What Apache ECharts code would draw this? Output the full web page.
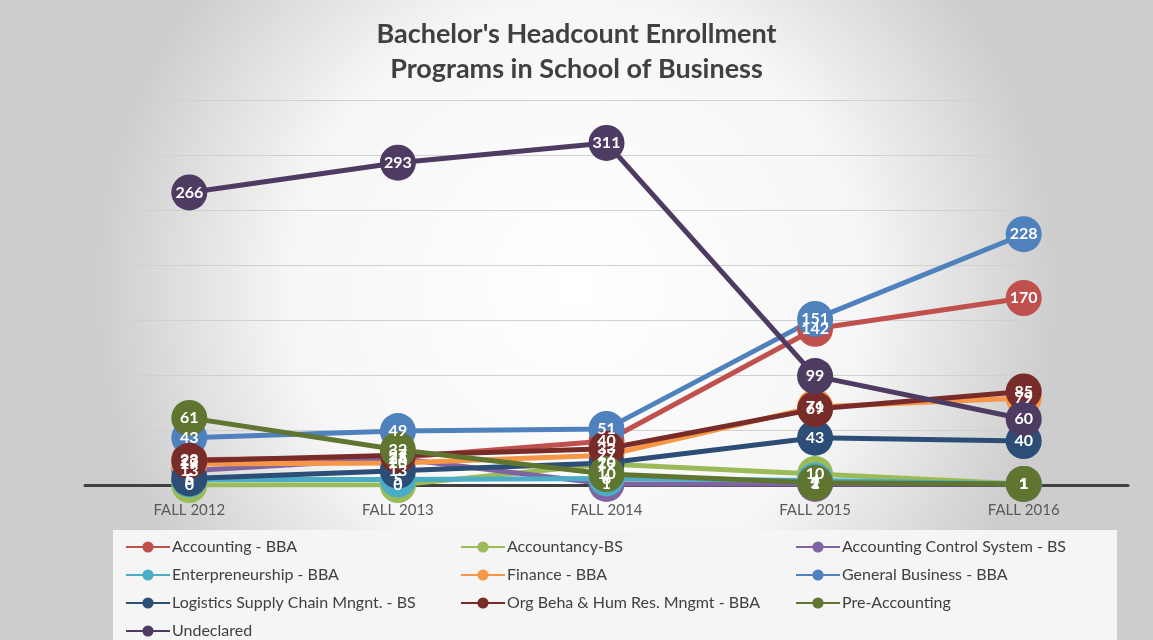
<!DOCTYPE html>
<html>
<head>
<meta charset="utf-8">
<script src="https://cdn.jsdelivr.net/npm/echarts@6/dist/echarts.min.js"></script>
<style>
  html, body { margin: 0; padding: 0; }
  #main { width: 1153px; height: 640px; }
</style>
</head>
<body>
<div id="main"></div>
<script>
// categories
var categories = ['FALL 2012', 'FALL 2013', 'FALL 2014', 'FALL 2015', 'FALL 2016'];

// series values
var accountingBBA      = [23, 25, 40, 142, 170];
var accountancyBS      = [0, 0, 19, 10, 1];
var accountingCtrlSys  = [13, 24, 1, 1, 1];
var enterpreneurship   = [5, 5, 6, 4, 1];
var financeBBA         = [19, 20, 27, 71, 79];
var generalBusiness    = [43, 49, 51, 151, 228];
var logisticsSCM       = [6, 13, 20, 43, 40];
var orgBehaHumRes      = [22, 27, 33, 69, 85];
var preAccounting      = [61, 32, 10, 2, 1];
var undeclared         = [266, 293, 311, 99, 60];

var seriesNames = ['Accounting - BBA', 'Accountancy-BS', 'Accounting Control System - BS',
	'Enterpreneurship - BBA', 'Finance - BBA', 'General Business - BBA',
	'Logistics Supply Chain Mngnt. - BS', 'Org Beha & Hum Res. Mngmt - BBA', 'Pre-Accounting', 'Undeclared'];
var seriesValues = [accountingBBA, accountancyBS, accountingCtrlSys, enterpreneurship, financeBBA,
	generalBusiness, logisticsSCM, orgBehaHumRes, preAccounting, undeclared];
var seriesColors = ['#C0504D', '#9BBB59', '#8064A2', '#4BACC6', '#F79646',
	'#4F81BD', '#2C4D75', '#772C2A', '#5F7530', '#4D3B62'];

var fontFam = 'Lato, "Open Sans", sans-serif';

// 每条折线的配置（标签统一画在所有圆点之上）
function getOneSeries(name, data, color) {
	return {
		name: name,
		type: 'line',
		data: data,
		symbol: 'circle',
		symbolSize: 36,
		lineStyle: { color: color, width: 5 },
		itemStyle: { color: color },
		label: {
			show: true,
			position: 'inside',
			color: '#fff',
			fontWeight: 'bold',
			fontSize: 16,
			fontFamily: fontFam
		},
		emphasis: { disabled: true },
		animation: false
	};
}

var seriesArr = [];
for (var i = 0; i < seriesNames.length; i++) {
	seriesArr.push(getOneSeries(seriesNames[i], seriesValues[i], seriesColors[i]));
}

var chart = echarts.init(document.getElementById('main'));
var option = {
	backgroundColor: {
		type: 'radial', x: 0.5, y: 0.45, r: 0.75,
		colorStops: [{ offset: 0, color: '#ffffff' }, { offset: 0.6, color: '#f6f6f6' }, { offset: 1, color: '#cdcdcd' }]
	},
	title: {
		text: "Bachelor's Headcount Enrollment\nPrograms in School of Business",
		left: 'center',
		top: 12,
		textStyle: {
			fontFamily: fontFam,
			fontSize: 27,
			fontWeight: 'bold',
			color: '#404040',
			lineHeight: 35
		}
	},
	graphic: [{
		type: 'rect',
		z: -1,
		shape: { x: 113, y: 530, width: 1004, height: 115 },
		style: { fill: '#f5f5f5' }
	}],
	legend: {
		data: seriesNames,
		left: 120,
		top: 533,
		width: 1000,
		itemWidth: 44,
		itemHeight: 14,
		itemGap: 10,
		textStyle: {
			fontFamily: fontFam,
			fontSize: 16,
			color: '#404040',
			width: 278,
			lineHeight: 18,
			padding: [0, 0, 0, -3]
		}
	},
	grid: { left: 85, right: 25, top: 100, bottom: 155 },
	xAxis: {
		type: 'category',
		data: categories,
		boundaryGap: true,
		axisLine: { lineStyle: { color: '#404040', width: 3 } },
		axisTick: { show: false },
		axisLabel: {
			fontFamily: fontFam,
			fontSize: 15,
			color: '#595959',
			margin: 18
		}
	},
	yAxis: {
		type: 'value',
		min: 0,
		max: 350,
		interval: 50,
		axisLabel: { show: false },
		axisLine: { show: false },
		axisTick: { show: false },
		splitLine: { lineStyle: { color: '#d0d0d0', width: 1 } }
	},
	series: seriesArr
};
chart.setOption(option);
</script>
</body>
</html>
